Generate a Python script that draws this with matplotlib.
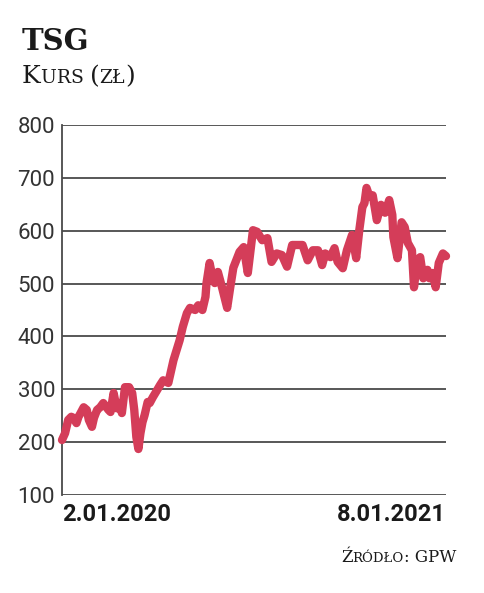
import matplotlib
matplotlib.use("Agg")
import matplotlib.pyplot as plt
import pandas as pd

# TSG share price (zl)
dates = [
    "2020-01-02", "2020-01-05", "2020-01-08", "2020-01-11", "2020-01-13", "2020-01-16",
    "2020-01-18", "2020-01-20", "2020-01-23", "2020-01-26", "2020-01-28", "2020-01-31",
    "2020-02-02", "2020-02-05", "2020-02-08", "2020-02-11", "2020-02-14", "2020-02-16",
    "2020-02-18", "2020-02-21", "2020-02-24", "2020-02-27", "2020-02-29", "2020-03-03",
    "2020-03-07", "2020-03-10", "2020-03-12", "2020-03-14", "2020-03-16", "2020-03-18",
    "2020-03-20", "2020-03-22", "2020-03-25", "2020-03-27", "2020-03-30", "2020-04-03",
    "2020-04-06", "2020-04-09", "2020-04-14", "2020-04-19", "2020-04-22", "2020-04-25",
    "2020-04-28", "2020-05-02", "2020-05-05", "2020-05-10", "2020-05-13", "2020-05-17",
    "2020-05-20", "2020-05-21", "2020-05-24", "2020-05-27", "2020-05-29", "2020-06-01",
    "2020-06-05", "2020-06-10", "2020-06-13", "2020-06-16", "2020-06-20", "2020-06-22",
    "2020-06-26", "2020-06-30", "2020-07-05", "2020-07-09", "2020-07-14", "2020-07-19",
    "2020-07-23", "2020-07-28", "2020-08-02", "2020-08-07", "2020-08-12", "2020-08-17",
    "2020-08-22", "2020-08-27", "2020-09-01", "2020-09-06", "2020-09-10", "2020-09-13",
    "2020-09-18", "2020-09-22", "2020-09-25", "2020-09-30", "2020-10-04", "2020-10-09",
    "2020-10-13", "2020-10-16", "2020-10-19", "2020-10-21", "2020-10-23", "2020-10-26",
    "2020-10-29", "2020-11-02", "2020-11-06", "2020-11-10", "2020-11-14", "2020-11-17",
    "2020-11-18", "2020-11-22", "2020-11-26", "2020-11-29", "2020-12-02", "2020-12-06",
    "2020-12-08", "2020-12-11", "2020-12-14", "2020-12-17", "2020-12-21", "2020-12-23",
    "2020-12-26", "2020-12-29", "2021-01-01", "2021-01-05", "2021-01-08",
]
prices = [
    204, 217, 242, 248, 246, 236,
    248, 255, 266, 261, 242, 229,
    246, 261, 266, 274, 266, 261,
    257, 293, 264, 274, 255, 304,
    304, 293, 261, 210, 187, 217,
    238, 251, 276, 274, 285, 298,
    308, 317, 312, 355, 374, 393,
    418, 444, 454, 450, 459, 450,
    475, 501, 539, 510, 501, 522,
    493, 454, 493, 530, 550, 560,
    569, 520, 601, 598, 582, 586,
    541, 557, 554, 532, 573, 573,
    573, 544, 563, 563, 535, 557,
    550, 567, 541, 529, 563, 592,
    548, 601, 645, 652, 681, 664,
    667, 620, 649, 634, 658, 630,
    588, 548, 616, 607, 577, 563,
    493, 544, 550, 510, 526, 510,
    520, 493, 539, 557, 552,
]
y_ticks = [100, 200, 300, 400, 500, 600, 700, 800]
x_labels = ["2.01.2020", "8.01.2021"]

dates = pd.to_datetime(dates)
W, H = 485, 593
fig = plt.figure(figsize=(W / 100, H / 100), dpi=100)
fig.patch.set_facecolor("white")
ax = fig.add_axes([62 / W, 1 - 495 / H, (446 - 62) / W, (495 - 125) / H])

ax.plot(dates, prices, color="#d43d59", lw=6, solid_capstyle="round",
        solid_joinstyle="round", clip_on=False, zorder=3)

ax.set_ylim(100, 800)
ax.set_xlim(dates[0], dates[-1])
ax.set_yticks(y_ticks)
ax.grid(axis="y", color="#4a4a4a", lw=1.3, zorder=1)
ax.grid(axis="x", visible=False)
for s in ["top", "right", "bottom"]:
    ax.spines[s].set_visible(False)
ax.spines["left"].set_color("#4a4a4a")
ax.spines["left"].set_linewidth(1.3)

ax.tick_params(axis="y", length=0, pad=5, labelsize=16, labelcolor="#333333")
for lab in ax.get_yticklabels():
    lab.set_fontfamily("Roboto")

ax.set_xticks([dates[0], dates[-1]])
ax.set_xticklabels(x_labels)
ax.tick_params(axis="x", length=0, pad=6, labelsize=17, labelcolor="#1a1a1a")
xl = ax.get_xticklabels()
for lab in xl:
    lab.set_fontfamily("Roboto")
    lab.set_fontweight("bold")
xl[0].set_horizontalalignment("left")
xl[1].set_horizontalalignment("right")

# title
fig.text(22 / W, 1 - 50 / H, "TSG", fontsize=21, fontweight="bold",
         family="DejaVu Serif", color="#1a1a1a", va="baseline")

renderer = fig.canvas.get_renderer()


def small_caps(parts, x_px, y_px, align="left"):
    # parts: list of (text, fontsize); laid out side by side on one baseline
    items = []
    total = 0
    for txt, size in parts:
        t = fig.text(0, 0, txt, fontsize=size, family="DejaVu Serif",
                     color="#1a1a1a", va="baseline")
        w = t.get_window_extent(renderer).width
        items.append((t, w))
        total += w
    x = x_px - total if align == "right" else x_px
    for t, w in items:
        t.set_position((x / W, 1 - y_px / H))
        x += w


small_caps([("K", 18), ("URS ", 13.5), ("(", 18), ("ZŁ", 13.5), (")", 18)], 22, 83)
small_caps([("Ź", 12), ("RÓDŁO", 9.5), (": GPW", 12)], 456, 562, align="right")

fig.savefig("out.png", dpi=100)
